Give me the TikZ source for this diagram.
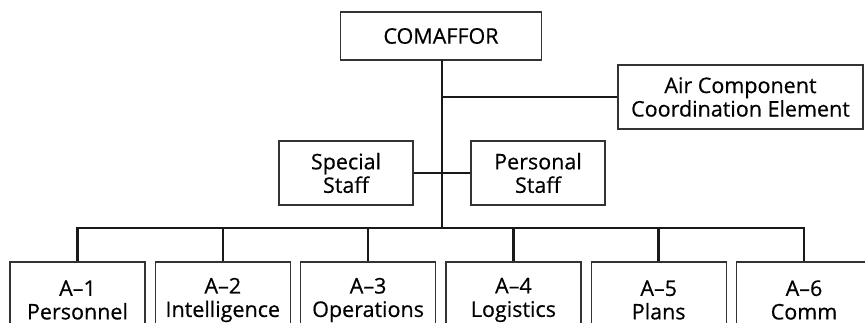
\documentclass[tikz,border=0pt]{standalone}
\usepackage{fontspec}
\setmainfont{Open Sans}[FakeBold=0.5,AutoFakeBold=0.5]
\begin{document}
\begin{tikzpicture}[x=1pt,y=-1pt,
  box/.style={draw=black!80, line width=1.2pt, align=center, inner sep=0pt,
    font=\fontsize{21.5}{23.5}\selectfont\bfseries, text=black},
  conn/.style={draw=black!90, line width=2.6pt, line join=miter}]
\useasboundingbox (0,0) rectangle (865,322);
\clip (0,0) rectangle (865,322);
\node[box, minimum width=201, minimum height=48] (com) at (441,36) {COMAFFOR};
\node[box, minimum width=245, minimum height=64] (acce) at (740.5,97) {Air Component\\Coordination Element};
\node[box, minimum width=134, minimum height=64] (spec) at (346,173) {Special\\Staff};
\node[box, minimum width=134, minimum height=64] (pers) at (538,173) {Personal\\Staff};
\node[box, minimum width=135, minimum height=76] (a1) at (77.5,300) {A–1\\Personnel};
\node[box, minimum width=135, minimum height=76] (a2) at (222.8,300) {A–2\\Intelligence};
\node[box, minimum width=135, minimum height=76] (a3) at (368.1,300) {A–3\\Operations};
\node[box, minimum width=135, minimum height=76] (a4) at (513.4,300) {A–4\\Logistics};
\node[box, minimum width=135, minimum height=76] (a5) at (658.7,300) {A–5\\Plans};
\node[box, minimum width=135, minimum height=76] (a6) at (804,300) {A–6\\Comm};
\coordinate (bus) at (442,228);
\coordinate (top) at (442,60);
\draw[conn] (top) -- (bus);
\draw[conn] (top |- acce.west) -- (acce.west);
\draw[conn] (spec.east) -- (pers.west);
\draw[conn] (a1.north) -- (a1.north |- bus) -- (a6.north |- bus) -- (a6.north);
\foreach \i in {2,3,4,5}{\draw[conn] (a\i.north |- bus) -- (a\i.north);}
\end{tikzpicture}
\end{document}
